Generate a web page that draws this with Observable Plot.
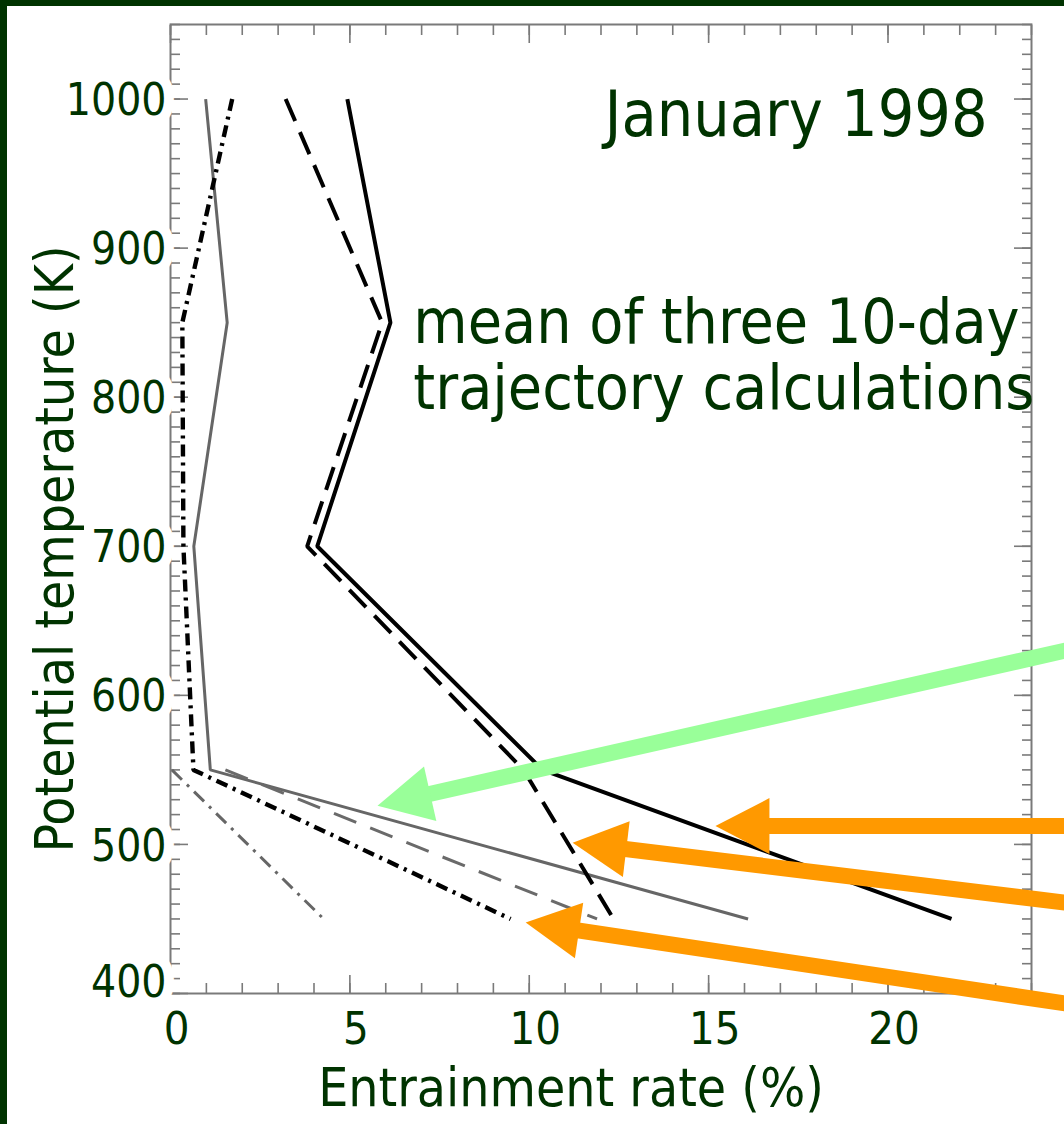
<!DOCTYPE html>
<html>
<head>
<meta charset="utf-8">
<script src="https://cdn.jsdelivr.net/npm/d3@7"></script>
<script src="https://cdn.jsdelivr.net/npm/@observablehq/plot@0.6"></script>
<style>
html, body { margin: 0; padding: 0; background: #fff; overflow: hidden; }
#wrap { width: 1057px; height: 1118px; border-top: 6px solid #003300; border-left: 7px solid #003300; background: #fff; }
#wrap svg { display: block; }
</style>
</head>
<body>
<div id="wrap"></div>
<script>
// ---------- data ----------
const theta = [1000, 850, 700, 550, 450];          // potential temperature levels (K)
const meanSolid    = [4.93, 6.13, 4.09, 10.37, 21.77];
const meanDashed   = [3.21, 5.90, 3.81, 9.84, 12.35];
const graySolid    = [0.98, 1.58, 0.65, 1.11, 16.10];
const blackDashDot = [1.72, 0.33, 0.36, 0.64, 9.48];
const thetaLow = [550, 450];
const grayDashed   = [1.53, 11.89];
const grayDashDot  = [0.04, 4.27];

const seriesValues = [graySolid, grayDashed, grayDashDot, blackDashDot, meanDashed, meanSolid];
const seriesTheta  = [theta, thetaLow, thetaLow, theta, theta, theta];
const seriesColor  = ["#666666", "#6a6a6a", "#666666", "#000000", "#000000", "#000000"];
const seriesWidth  = [3.0, 3.0, 3.0, 4.4, 4.0, 4.0];
const seriesDash   = [null, "24,15", "14,7,3,7", "12,6,3,6", "24,12", null];

const xDomain = [0, 24];
const yDomain = [400, 1050];
const xMajor = [0, 5, 10, 15, 20];
const xTickLabels = ["0", "5", "10", "15", "20"];
const xMinor = d3.range(0, 25, 1);
const yMajor = [400, 500, 600, 700, 800, 900, 1000];
const yTickLabels = ["400", "500", "600", "700", "800", "900", "1000"];
const yMinor = d3.range(400, 1051, 10);

const annX = [12.1, 6.77, 6.77];
const annY = [975.2, 836.4, 792.2];
const annText = ["January 1998", "mean of three 10-day", "trajectory calculations"];

const arrowColor = ["#99ff99", "#ff9900", "#ff9900", "#ff9900"];
const arrowTipX  = [5.77, 15.19, 11.21, 9.90];
const arrowTipY  = [526.0, 512.3, 501.2, 447.6];
const arrowTailX = [25.92, 25.92, 25.92, 25.92];
const arrowTailY = [635.3, 512.3, 458.1, 389.8];

const xTitle = "Entrainment rate (%)";
const yTitle = "Potential temperature (K)";

// ---------- layout ----------
const W = 1057, H = 1118, mL = 163, mR = 33, mT = 18, mB = 131;
const GREEN = "#003300";
const AXIS = "#7a7a7a";
const FONT = "'DejaVu Sans Condensed', 'DejaVu Sans', sans-serif";

const xs = Plot.scale({x: {domain: xDomain, range: [mL, W - mR]}});
const ys = Plot.scale({y: {domain: yDomain, range: [H - mB, mT]}});

const HEAD_L = 54, HEAD_W = 56;
const arrows = arrowTipX.map((_, i) => {
  const tx = xs.apply(arrowTipX[i]), ty = ys.apply(arrowTipY[i]);
  const ax = xs.apply(arrowTailX[i]), ay = ys.apply(arrowTailY[i]);
  const len = Math.hypot(ax - tx, ay - ty);
  const ux = (ax - tx) / len, uy = (ay - ty) / len;
  const bx = tx + ux * HEAD_L, by = ty + uy * HEAD_L;
  const nx = -uy, ny = ux;
  const head = [[tx, ty], [bx + nx * HEAD_W / 2, by + ny * HEAD_W / 2], [bx - nx * HEAD_W / 2, by - ny * HEAD_W / 2]]
    .map(([px, py]) => ({x: xs.invert(px), y: ys.invert(py)}));
  const sx = tx + ux * (HEAD_L - 3), sy = ty + uy * (HEAD_L - 3);
  return {color: arrowColor[i], x1: arrowTailX[i], y1: arrowTailY[i], x2: xs.invert(sx), y2: ys.invert(sy), head};
});

const tickOpts = {stroke: AXIS, strokeWidth: 1.6, fill: "none", label: null};

const marks = [
  Plot.frame({stroke: AXIS, strokeWidth: 2}),
  // inward ticks on all four sides
  Plot.axisY({ticks: yMinor, anchor: "left", tickSize: -10, ...tickOpts}),
  Plot.axisY({ticks: yMajor, anchor: "left", tickSize: -18, ...tickOpts}),
  Plot.axisY({ticks: yMinor, anchor: "right", tickSize: -10, ...tickOpts}),
  Plot.axisY({ticks: yMajor, anchor: "right", tickSize: -18, ...tickOpts}),
  Plot.axisX({ticks: xMinor, anchor: "bottom", tickSize: -10, ...tickOpts}),
  Plot.axisX({ticks: xMajor, anchor: "bottom", tickSize: -18, ...tickOpts}),
  Plot.axisX({ticks: xMinor, anchor: "top", tickSize: -10, ...tickOpts}),
  Plot.axisX({ticks: xMajor, anchor: "top", tickSize: -18, ...tickOpts}),
  // tick labels (white box behind like the original)
  Plot.text(yMajor.slice(1), {y: d => d, text: (d, i) => yTickLabels[i + 1], frameAnchor: "left", textAnchor: "end",
    dx: -4, dy: 2, fontSize: 44, fill: GREEN, stroke: "white", strokeWidth: 20, strokeLinejoin: "round"}),
  Plot.text(yMajor.slice(0, 1), {y: d => d, text: (d, i) => yTickLabels[i], frameAnchor: "left", textAnchor: "end",
    dx: -4, dy: -11, fontSize: 44, fill: GREEN, stroke: "white", strokeWidth: 20, strokeLinejoin: "round"}),
  Plot.text(xMajor, {x: d => d, text: (d, i) => xTickLabels[i], frameAnchor: "bottom", lineAnchor: "top",
    dx: 6, dy: 19, fontSize: 45, fill: GREEN}),
  // profiles
  ...seriesValues.map((vals, s) => Plot.line(vals.map((v, i) => ({x: v, y: seriesTheta[s][i]})), {
    x: "x", y: "y", stroke: seriesColor[s], strokeWidth: seriesWidth[s],
    strokeDasharray: seriesDash[s] || undefined, strokeLinejoin: "miter", strokeLinecap: "butt"
  })),
  // arrows
  ...arrows.map(a => Plot.link([a], {x1: "x1", y1: "y1", x2: "x2", y2: "y2", stroke: a.color, strokeWidth: 16})),
  ...arrows.map(a => Plot.line(a.head, {x: "x", y: "y", fill: a.color, stroke: "none", curve: "linear-closed"})),
  // annotations
  Plot.text(annText.slice(0, 1), {x: (d, i) => annX[i], y: (d, i) => annY[i], text: d => d,
    textAnchor: "start", lineAnchor: "bottom", fontSize: 64, fill: GREEN}),
  Plot.text(annText.slice(1), {x: (d, i) => annX[i + 1], y: (d, i) => annY[i + 1], text: d => d,
    textAnchor: "start", lineAnchor: "bottom", fontSize: 62, fill: GREEN}),
  // axis titles
  Plot.text([xTitle], {frameAnchor: "bottom", text: d => d, textAnchor: "middle", lineAnchor: "bottom",
    dx: -30, dy: 112, fontSize: 53, fill: GREEN}),
  Plot.text([yTitle], {frameAnchor: "left", text: d => d, rotate: -90, textAnchor: "middle", lineAnchor: "bottom",
    dx: -98, dy: 40, fontSize: 53, fill: GREEN})
];

const chart = Plot.plot({
  width: W, height: H,
  marginLeft: mL, marginRight: mR, marginTop: mT, marginBottom: mB,
  x: {domain: xDomain, axis: null},
  y: {domain: yDomain, axis: null},
  style: `font-family: ${FONT}; background: white;`,
  marks
});
document.getElementById("wrap").appendChild(chart);
</script>
</body>
</html>
